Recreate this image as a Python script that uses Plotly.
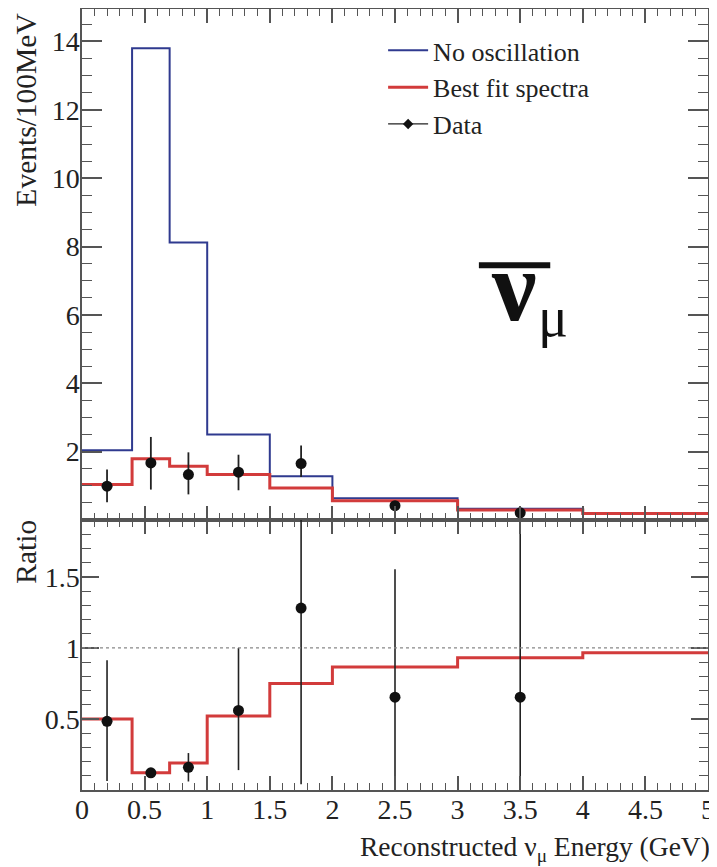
import plotly.graph_objects as go
from plotly.subplots import make_subplots

# ---- data ----
bin_edges = [0.0, 0.4, 0.7, 1.0, 1.5, 2.0, 3.0, 4.0, 5.0]
no_osc = [2.04, 13.8, 8.12, 2.50, 1.28, 0.64, 0.33, 0.20]
best_fit = [1.04, 1.79, 1.57, 1.33, 0.94, 0.56, 0.29, 0.19]
ratio_fit = [0.50, 0.121, 0.19, 0.52, 0.75, 0.866, 0.93, 0.965]

data_x = [0.2, 0.55, 0.85, 1.25, 1.75, 2.5, 3.5]
data_y = [0.99, 1.67, 1.33, 1.40, 1.65, 0.42, 0.21]
data_err_up = [0.49, 0.76, 0.65, 0.51, 0.53, 0.0, 0.0]
data_err_dn = [0.47, 0.78, 0.58, 0.53, 0.39, 0.0, 0.0]

ratio_y = [0.483, 0.121, 0.16, 0.56, 1.28, 0.653, 0.653]
ratio_err_up = [0.43, 0.03, 0.10, 0.44, 1.0, 0.90, 1.5]
ratio_err_dn = [0.42, 0.03, 0.10, 0.42, 1.24, 0.653, 0.653]

x_ticks = [0, 0.5, 1, 1.5, 2, 2.5, 3, 3.5, 4, 4.5, 5]
y_ticks_top = [2, 4, 6, 8, 10, 12, 14]
y_ticks_ratio = [0.5, 1, 1.5]

BLUE = "#2f3a8f"
RED = "#d23b3b"
FONT = "Liberation Serif"
AXC = "#555555"
TXT = "#222222"

def steps(vals):
    return vals + [vals[-1]]

fig = make_subplots(rows=2, cols=1, shared_xaxes=True, vertical_spacing=0,
                    row_heights=[0.6543, 0.3457])

fig.add_trace(go.Scatter(x=bin_edges, y=steps(no_osc), mode="lines", line_shape="hv",
                         line=dict(color=BLUE, width=2), name="No oscillation"), row=1, col=1)
fig.add_trace(go.Scatter(x=bin_edges, y=steps(best_fit), mode="lines", line_shape="hv",
                         line=dict(color=RED, width=3), name="Best fit spectra"), row=1, col=1)
fig.add_trace(go.Scatter(x=data_x, y=data_y, mode="markers",
                         marker=dict(color="#111111", size=11),
                         error_y=dict(type="data", array=data_err_up, arrayminus=data_err_dn,
                                      color=TXT, thickness=1.8, width=0),
                         showlegend=False), row=1, col=1)
# legend-only entry for data
fig.add_trace(go.Scatter(x=[None], y=[None], mode="lines+markers",
                         line=dict(color=TXT, width=1.2),
                         marker=dict(color="#111111", size=8, symbol="diamond"), name="Data"),
              row=1, col=1)

fig.add_trace(go.Scatter(x=bin_edges, y=steps(ratio_fit), mode="lines", line_shape="hv",
                         line=dict(color=RED, width=3), showlegend=False), row=2, col=1)
fig.add_trace(go.Scatter(x=data_x, y=ratio_y, mode="markers",
                         marker=dict(color="#111111", size=11),
                         error_y=dict(type="data", array=ratio_err_up, arrayminus=ratio_err_dn,
                                      color=TXT, thickness=1.6, width=0),
                         showlegend=False), row=2, col=1)

fig.add_hline(y=1, line=dict(color="#888888", width=1.2, dash="dot"), row=2, col=1)

axis_common = dict(showline=True, linecolor=AXC, linewidth=1.5, mirror="ticks",
                   ticks="inside", tickcolor=AXC, showgrid=False, zeroline=False,
                   automargin=False,
                   tickfont=dict(family=FONT, size=28, color=TXT))

fig.update_xaxes(**axis_common, range=[0, 5], tickvals=x_ticks, ticklen=14, tickwidth=1.5,
                 ticklabelstandoff=-6,
                 minor=dict(ticks="inside", tickmode="linear", tick0=0, dtick=0.1,
                            ticklen=7, tickcolor=AXC, tickwidth=1.2))
fig.update_xaxes(showticklabels=False, row=1, col=1)
fig.update_yaxes(**axis_common, range=[0, 14.95], tickvals=y_ticks_top, ticklen=20, tickwidth=1.5,
                 ticklabelstandoff=-5,
                 minor=dict(ticks="inside", tickmode="linear", tick0=0, dtick=0.5,
                            ticklen=10, tickcolor=AXC, tickwidth=1.2), row=1, col=1)
fig.update_yaxes(**axis_common, range=[0, 1.9], tickvals=y_ticks_ratio, ticklen=17, tickwidth=1.5,
                 ticklabelstandoff=-5,
                 minor=dict(ticks="inside", tickmode="linear", tick0=0, dtick=0.1,
                            ticklen=9, tickcolor=AXC, tickwidth=1.2), row=2, col=1)

annots = [
    dict(text="Events/100MeV", x=-0.090, y=0.8707, textangle=-90,
         font=dict(family=FONT, size=29.5, color=TXT)),
    dict(text="Ratio", x=-0.090, y=0.3047, textangle=-90,
         font=dict(family=FONT, size=29.5, color=TXT)),
    dict(text="Reconstructed ν<sub>μ</sub> Energy (GeV)", x=1.006, y=-0.0743, xanchor="right",
         font=dict(family=FONT, size=27.5, color=TXT)),
    dict(text="<b>ν</b>", x=0.690, y=0.645, font=dict(family=FONT, size=100, color="#111111")),
    dict(text="μ", x=0.752, y=0.606, font=dict(family=FONT, size=56, color="#111111")),
]
for a in annots:
    a.setdefault("xanchor", "center")
    fig.add_annotation(xref="paper", yref="paper", showarrow=False, yanchor="middle", **a)

fig.add_shape(type="line", xref="paper", yref="paper", x0=0.634, x1=0.748, y0=0.672, y1=0.672,
              line=dict(color="#111111", width=6))

# page body has an 8px margin: figure is sized/margined so plot lands where the reference has it
fig.update_layout(
    width=709, height=859,
    margin=dict(l=74, r=9, t=1, b=77),
    paper_bgcolor="white", plot_bgcolor="white",
    legend=dict(x=0.481, y=0.977, xanchor="left", yanchor="top",
                font=dict(family=FONT, size=26, color=TXT),
                bgcolor="rgba(0,0,0,0)", tracegroupgap=0, itemwidth=40),
    showlegend=True,
)

fig.write_html("out.html")
